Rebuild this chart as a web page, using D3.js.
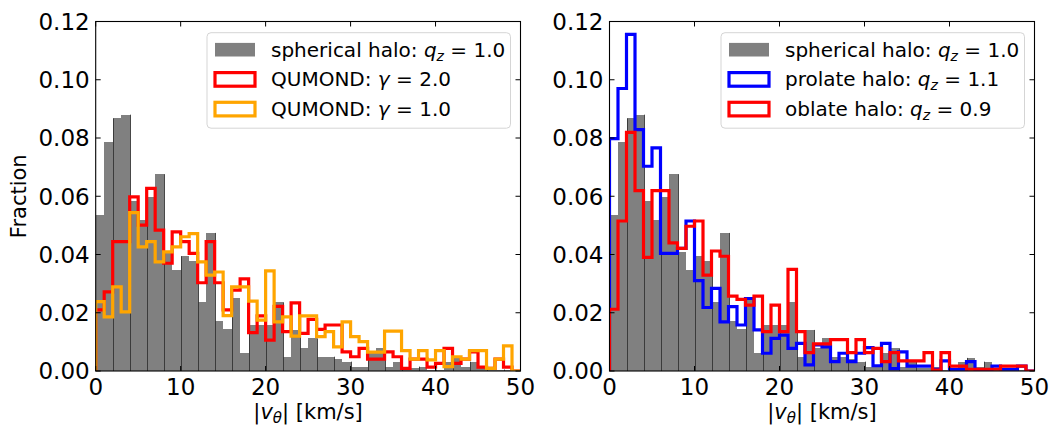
<!DOCTYPE html>
<html><head><meta charset="utf-8">
<script src="https://cdn.jsdelivr.net/npm/d3@7"></script>
<style>
body{margin:0;background:#fff}
svg{display:block}
text{font-family:"DejaVu Sans",sans-serif;fill:#000}
</style>
</head><body><svg id="c" width="1053" height="428"></svg>
<script>
// ---------------- data ----------------
const binStarts = d3.range(0, 50);   // |v_theta| bins of 1 km/s
const binWidth = 1;
const spherical = [0.0535,0.0787,0.0867,0.0880,0.0583,0.0518,0.0598,0.0676,0.0410,0.0346,
  0.0394,0.0378,0.0238,0.0474,0.0171,0.0143,0.0251,0.0061,0.0158,0.0158,
  0.0158,0.0236,0.0049,0.0141,0.0078,0.0112,0.0049,0.0049,0.0040,0.0032,
  0.0015,0.0015,0.0063,0.0078,0.0015,0.0032,0.0010,0.0010,0.0015,0.0005,
  0.0005,0.0032,0.0045,0.0015,0.0032,0.0010,0.0010,0.0005,0.0005,0.0000];
const qumondG2 = [0.0210,0.0272,0.0444,0.0444,0.0598,0.0501,0.0627,0.0484,0.0370,0.0478,
  0.0444,0.0404,0.0303,0.0444,0.0303,0.0210,0.0278,0.0316,0.0132,0.0189,
  0.0106,0.0222,0.0135,0.0234,0.0129,0.0177,0.0143,0.0158,0.0158,0.0066,
  0.0049,0.0078,0.0041,0.0041,0.0066,0.0049,0.0009,0.0041,0.0041,0.0013,
  0.0026,0.0078,0.0026,0.0041,0.0066,0.0013,0.0009,0.0041,0.0013,0.0000];
const qumondG1 = [0.0238,0.0186,0.0289,0.0203,0.0544,0.0426,0.0444,0.0375,0.0409,0.0426,
  0.0461,0.0472,0.0375,0.0329,0.0340,0.0190,0.0289,0.0289,0.0240,0.0175,
  0.0344,0.0169,0.0186,0.0120,0.0189,0.0189,0.0118,0.0135,0.0083,0.0169,
  0.0118,0.0101,0.0065,0.0065,0.0137,0.0137,0.0070,0.0041,0.0070,0.0038,
  0.0070,0.0015,0.0049,0.0041,0.0070,0.0070,0.0009,0.0041,0.0086,0.0000];
const prolate = [0.0798,0.0970,0.1156,0.0829,0.0703,0.0766,0.0404,0.0404,0.0421,0.0515,
  0.0310,0.0218,0.0284,0.0169,0.0221,0.0158,0.0249,0.0141,0.0061,0.0112,
  0.0123,0.0078,0.0095,0.0021,0.0090,0.0083,0.0032,0.0061,0.0032,0.0061,
  0.0080,0.0018,0.0095,0.0008,0.0066,0.0017,0.0017,0.0017,0.0006,0.0035,
  0.0006,0.0006,0.0032,0.0003,0.0003,0.0017,0.0006,0.0006,0.0017,0.0000];
const oblate = [0.0212,0.0515,0.0819,0.0619,0.0390,0.0619,0.0619,0.0440,0.0421,0.0497,
  0.0515,0.0329,0.0412,0.0394,0.0257,0.0246,0.0226,0.0257,0.0135,0.0226,
  0.0135,0.0349,0.0135,0.0063,0.0093,0.0093,0.0108,0.0108,0.0063,0.0108,
  0.0063,0.0078,0.0032,0.0063,0.0035,0.0035,0.0035,0.0063,0.0003,0.0063,
  0.0017,0.0017,0.0006,0.0006,0.0006,0.0006,0.0017,0.0017,0.0017,0.0000];
const xTickValues = [0, 10, 20, 30, 40, 50];
const yTickValues = [0.00, 0.02, 0.04, 0.06, 0.08, 0.10, 0.12];
const xDomain = [0, 50];
const yDomain = [0, 0.12];

// legend label parts: [plain text, math symbol, subscript, rest]
const leftLegend = [
  {kind:"bar",  color:"#808080", parts:["spherical halo: ","q","z"," = 1.0"]},
  {kind:"step", color:"#ff0000", parts:["QUMOND: ","γ",""," = 2.0"]},
  {kind:"step", color:"#ffa500", parts:["QUMOND: ","γ",""," = 1.0"]}
];
const rightLegend = [
  {kind:"bar",  color:"#808080", parts:["spherical halo: ","q","z"," = 1.0"]},
  {kind:"step", color:"#0000ff", parts:["prolate halo: ","q","z"," = 1.1"]},
  {kind:"step", color:"#ff0000", parts:["oblate halo: ","q","z"," = 0.9"]}
];

const panels = [
  {left:95.7, right:520.5, steps:[{v:qumondG2,c:"#ff0000"},{v:qumondG1,c:"#ffa500"}], legend:leftLegend, ylabel:true},
  {left:609.5, right:1034.5, steps:[{v:prolate,c:"#0000ff"},{v:oblate,c:"#ff0000"}], legend:rightLegend, ylabel:false}
];
const plotTop = 21.5, plotBottom = 371;

const svg = d3.select("#c");

panels.forEach((p, pi) => {
  const x = d3.scaleLinear().domain(xDomain).range([p.left, p.right]);
  const y = d3.scaleLinear().domain(yDomain).range([plotBottom, plotTop]);
  const g = svg.append("g");
  const clipId = "clip" + pi;
  svg.append("clipPath").attr("id", clipId).append("rect")
    .attr("x", p.left).attr("y", plotTop).attr("width", p.right - p.left).attr("height", plotBottom - plotTop);
  const plot = g.append("g").attr("clip-path", `url(#${clipId})`);

  // gray bars
  plot.selectAll("rect.bar").data(binStarts).enter().append("rect")
    .attr("x", d => x(d))
    .attr("width", d => x(d + binWidth) - x(d))
    .attr("y", (d, i) => y(spherical[i]))
    .attr("height", (d, i) => y(0) - y(spherical[i]))
    .attr("fill", "#808080")
    .attr("shape-rendering", "crispEdges");
  // bar edges (visible at every other edge in the original rendering)
  plot.selectAll("line.edge").data(binStarts.filter(d => d > 0 && d % 2 === 0)).enter().append("line")
    .attr("x1", d => Math.round(x(d)) + 0.5).attr("x2", d => Math.round(x(d)) + 0.5)
    .attr("y1", y(0))
    .attr("y2", d => y(Math.max(spherical[d - 1], spherical[d])))
    .attr("stroke", "#333").attr("stroke-width", 0.9);

  // step histograms
  const line = d3.line().x(d => x(d[0])).y(d => y(d[1])).curve(d3.curveStepAfter);
  p.steps.forEach(s => {
    const pts = [[xDomain[0], 0]];
    binStarts.forEach((b, i) => pts.push([b, s.v[i]]));
    pts.push([binStarts[binStarts.length - 1] + binWidth, s.v[s.v.length - 1]]);
    pts.push([binStarts[binStarts.length - 1] + binWidth, 0]);
    plot.append("path").attr("d", line(pts))
      .attr("fill", "none").attr("stroke", s.c).attr("stroke-width", 3.2)
      .attr("stroke-linejoin", "miter");
  });

  // frame
  g.append("rect").attr("x", p.left).attr("y", plotTop).attr("width", p.right - p.left).attr("height", plotBottom - plotTop)
    .attr("fill", "none").attr("stroke", "#000").attr("stroke-width", 1.1);

  // ticks (inward, all sides)
  const tl = 5;
  xTickValues.forEach(t => {
    g.append("line").attr("x1", x(t)).attr("x2", x(t)).attr("y1", plotBottom).attr("y2", plotBottom - tl).attr("stroke", "#000");
    g.append("line").attr("x1", x(t)).attr("x2", x(t)).attr("y1", plotTop).attr("y2", plotTop + tl).attr("stroke", "#000");
    g.append("text").attr("x", x(t)).attr("y", plotBottom + 24).attr("text-anchor", "middle")
      .style("font-size", "23px").text(d3.format("d")(t));
  });
  yTickValues.forEach(t => {
    g.append("line").attr("x1", p.left).attr("x2", p.left + tl).attr("y1", y(t)).attr("y2", y(t)).attr("stroke", "#000");
    g.append("line").attr("x1", p.right).attr("x2", p.right - tl).attr("y1", y(t)).attr("y2", y(t)).attr("stroke", "#000");
    g.append("text").attr("x", p.left - 6).attr("y", y(t)).attr("dy", "0.36em").attr("text-anchor", "end")
      .style("font-size", "23px").text(d3.format(".2f")(t));
  });

  // x label
  const xl = g.append("text").attr("x", (p.left + p.right) / 2).attr("y", 419).attr("text-anchor", "middle")
    .style("font-size", "21px");
  xl.append("tspan").text("|");
  xl.append("tspan").style("font-style", "italic").text("v");
  xl.append("tspan").style("font-style", "italic").style("font-size", "15px").attr("dy", 4).text("θ");
  xl.append("tspan").attr("dy", -4).text("| [km/s]");

  if (p.ylabel) {
    g.append("text").attr("transform", `translate(26,${(plotTop + plotBottom) / 2}) rotate(-90)`)
      .attr("text-anchor", "middle").style("font-size", "21px").text("Fraction");
  }

  // legend
  const lw = 303.5, lh = 95.5;
  const lx = p.right - 10 - lw, ly = plotTop + 11.2;
  const lg = g.append("g");
  lg.append("rect").attr("x", lx).attr("y", ly).attr("width", lw).attr("height", lh).attr("rx", 4)
    .attr("fill", "#fff").attr("fill-opacity", 0.8).attr("stroke", "#d5d5d5").attr("stroke-width", 1);
  p.legend.forEach((e, i) => {
    const cy = ly + 17 + i * 29.7;
    if (e.kind === "bar") {
      lg.append("rect").attr("x", lx + 8).attr("y", cy - 6.8).attr("width", 40).attr("height", 13.6).attr("fill", e.color);
    } else {
      lg.append("rect").attr("x", lx + 8).attr("y", cy - 6.8).attr("width", 40).attr("height", 13.6)
        .attr("fill", "none").attr("stroke", e.color).attr("stroke-width", 3.2);
    }
    const t = lg.append("text").attr("x", lx + 64).attr("y", cy + 7).style("font-size", "20px");
    t.append("tspan").text(e.parts[0]);
    t.append("tspan").style("font-style", "italic").text(e.parts[1]);
    if (e.parts[2]) {
      t.append("tspan").style("font-style", "italic").style("font-size", "14px").attr("dy", 4).text(e.parts[2]);
      t.append("tspan").attr("dy", -4).text(e.parts[3]);
    } else {
      t.append("tspan").text(e.parts[3]);
    }
  });
});
</script>
</body></html>
